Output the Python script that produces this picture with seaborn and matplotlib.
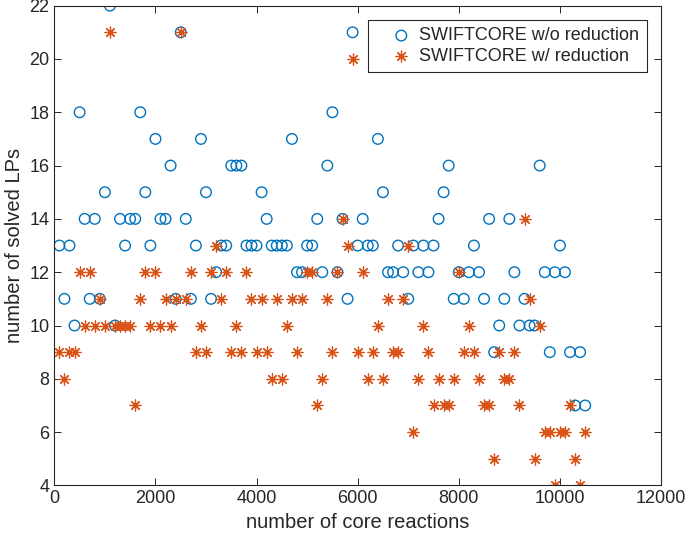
import numpy as np
import pandas as pd
import matplotlib
matplotlib.use('Agg')
import matplotlib.pyplot as plt
import seaborn as sns

# valores
core_reactions = [100, 200, 300, 400, 500, 600, 700, 800, 900, 1000,
                  1100, 1200, 1300, 1400, 1500, 1600, 1700, 1800, 1900, 2000,
                  2100, 2200, 2300, 2400, 2500, 2600, 2700, 2800, 2900, 3000,
                  3100, 3200, 3300, 3400, 3500, 3600, 3700, 3800, 3900, 4000,
                  4100, 4200, 4300, 4400, 4500, 4600, 4700, 4800, 4900, 5000,
                  5100, 5200, 5300, 5400, 5500, 5600, 5700, 5800, 5900, 6000,
                  6100, 6200, 6300, 6400, 6500, 6600, 6700, 6800, 6900, 7000,
                  7100, 7200, 7300, 7400, 7500, 7600, 7700, 7800, 7900, 8000,
                  8100, 8200, 8300, 8400, 8500, 8600, 8700, 8800, 8900, 9000,
                  9100, 9200, 9300, 9400, 9500, 9600, 9700, 9800, 9900, 10000,
                  10100, 10200, 10300, 10400, 10500]

lps_without = [13, 11, 13, 10, 18, 14, 11, 14, 11, 15,
               22, 10, 14, 13, 14, 14, 18, 15, 13, 17,
               14, 14, 16, 11, 21, 14, 11, 13, 17, 15,
               11, 12, 13, 13, 16, 16, 16, 13, 13, 13,
               15, 14, 13, 13, 13, 13, 17, 12, 12, 13,
               13, 14, 12, 16, 18, 12, 14, 11, 21, 13,
               14, 13, 13, 17, 15, 12, 12, 13, 12, 11,
               13, 12, 13, 12, 13, 14, 15, 16, 11, 12,
               11, 12, 13, 12, 11, 14, 9, 10, 11, 14,
               12, 10, 11, 10, 10, 16, 12, 9, 12, 13,
               12, 9, 7, 9, 7]

lps_with = [9, 8, 9, 9, 12, 10, 12, 10, 11, 10,
            21, 10, 10, 10, 10, 7, 11, 12, 10, 12,
            10, 11, 10, 11, 21, 11, 12, 9, 10, 9,
            12, 13, 11, 12, 9, 10, 9, 12, 11, 9,
            11, 9, 8, 11, 8, 10, 11, 9, 11, 12,
            12, 7, 8, 11, 9, 12, 14, 13, 20, 9,
            12, 8, 9, 10, 8, 11, 9, 9, 11, 13,
            6, 8, 10, 9, 7, 8, 7, 7, 8, 12,
            9, 10, 9, 8, 7, 7, 5, 9, 8, 8,
            9, 7, 14, 11, 5, 10, 6, 6, 4, 6,
            6, 7, 5, 4, 6]

sns.set_style('white')
plt.rcParams['font.family'] = ['Liberation Sans', 'DejaVu Sans']

cor_eixo = '#262626'
fig = plt.figure(figsize=(6.85, 5.39), dpi=100)
ax = fig.add_axes([0.0793, 0.0994, 0.8857, 0.8901])

sns.scatterplot(x=core_reactions, y=lps_without, ax=ax, marker='o', s=58,
                facecolors='none', edgecolor='#0072BD', linewidth=1.0,
                label='SWIFTCORE w/o reduction')
sns.scatterplot(x=core_reactions, y=lps_with, ax=ax, marker=(8, 2, 0), s=62,
                color='#D95319', linewidth=0.9,
                label='SWIFTCORE w/ reduction')

ax.set_xlim(0, 12000)
ax.set_ylim(4, 22)
ax.set_xticks(range(0, 12001, 2000))
ax.set_yticks(range(4, 23, 2))
ax.tick_params(direction='in', length=5, width=0.7, colors=cor_eixo,
               labelsize=13, top=True, right=True, bottom=True, left=True,
               labelcolor=cor_eixo)
for s in ax.spines.values():
    s.set_color(cor_eixo)
    s.set_linewidth(0.8)

ax.set_xlabel('number of core reactions', fontsize=14.5, color=cor_eixo)
ax.set_ylabel('number of solved LPs', fontsize=14.5, color=cor_eixo)

# legenda no estilo do matlab: marcador afastado da borda, texto colado
leg = ax.legend(loc='upper right', frameon=True, fancybox=False, framealpha=1,
                edgecolor=cor_eixo, fontsize=13, borderaxespad=0.8,
                handlelength=2.9, handletextpad=-0.45, borderpad=0.4,
                labelspacing=0.18)
leg.get_frame().set_linewidth(0.8)

fig.savefig('out.png', dpi=100)
